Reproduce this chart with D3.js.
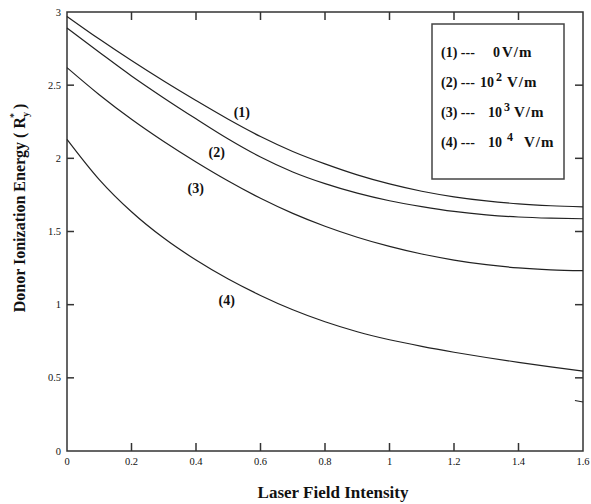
<html>

<head>
  <title>Donor Ionization Energy vs Laser Field Intensity</title>
  <script src="https://d3js.org/d3.v7.min.js"></script>
  <style>
    body {
      margin: 0;
      background: #fff;
    }

    .frame line,
    .frame rect {
      stroke: #333;
      stroke-width: 1.5px;
      fill: none;
    }

    .curve {
      fill: none;
      stroke: #222;
      stroke-width: 1.2px;
    }

    .tick-label {
      font-family: "Liberation Serif", "DejaVu Serif", serif;
      font-size: 10.5px;
      fill: #111;
    }

    .bold-text {
      font-family: "Liberation Serif", "DejaVu Serif", serif;
      font-weight: bold;
      fill: #111;
    }

    .legend-box {
      fill: #fff;
      stroke: #444;
      stroke-width: 1.5px;
    }
  </style>
</head>

<body>
  <svg id="chart" width="591" height="504"></svg>

  <script>
    // values
    const fieldIntensity = [0, 0.1, 0.2, 0.3, 0.4, 0.5, 0.6, 0.7, 0.8, 0.9, 1.0, 1.1, 1.2, 1.3, 1.4, 1.5, 1.6];
    const energy0 = [2.97, 2.815, 2.668, 2.528, 2.395, 2.267, 2.149, 2.047, 1.962, 1.887, 1.825, 1.775, 1.737, 1.709, 1.689, 1.676, 1.668];
    const energy1e2 = [2.89, 2.725, 2.563, 2.413, 2.27, 2.132, 2.009, 1.907, 1.827, 1.762, 1.71, 1.67, 1.637, 1.614, 1.599, 1.591, 1.587];
    const energy1e3 = [2.62, 2.435, 2.267, 2.115, 1.975, 1.845, 1.727, 1.624, 1.536, 1.461, 1.398, 1.346, 1.305, 1.273, 1.251, 1.238, 1.232];
    const energy1e4 = [2.13, 1.855, 1.635, 1.455, 1.305, 1.175, 1.063, 0.965, 0.883, 0.815, 0.76, 0.715, 0.675, 0.639, 0.606, 0.575, 0.546];
    const strayTail = [[1.575, 0.345], [1.6, 0.335]];

    const xTicks = [0, 0.2, 0.4, 0.6, 0.8, 1, 1.2, 1.4, 1.6];
    const yTicks = [0, 0.5, 1, 1.5, 2, 2.5, 3];

    const curveTags = ["(1)", "(2)", "(3)", "(4)"];
    const curveTagSpots = [[0.542, 2.317], [0.464, 2.04], [0.399, 1.80], [0.495, 1.03]];

    const legendTags = ["(1) ---", "(2) ---", "(3) ---", "(4) ---"];
    const legendBase = ["0", "10", "10", "10"];
    const legendPower = ["", "2", "3", "4"];
    const legendUnit = ["V/m", "V/m", "V/m", "V/m"];

    const svg = d3.select("svg#chart");
    const width = svg.attr("width");
    const height = svg.attr("height");
    const margin = { top: 12, right: 8, bottom: 53, left: 67 };
    const chartWidth = width - margin.left - margin.right;
    const chartHeight = height - margin.top - margin.bottom;

    const chartArea = svg.append("g").attr("transform", `translate(${margin.left},${margin.top})`);

    const xScale = d3.scaleLinear().domain([0, 1.6]).range([0, chartWidth]);
    const yScale = d3.scaleLinear().domain([0, 3]).range([chartHeight, 0]);

    // frame with inward ticks on all four sides
    const frame = chartArea.append("g").attr("class", "frame");
    frame.append("rect").attr("x", 0).attr("y", 0).attr("width", chartWidth).attr("height", chartHeight);

    const tickLen = 8;
    frame.selectAll("line.xb").data(xTicks.slice(1, -1)).join("line").attr("class", "xb")
      .attr("x1", d => xScale(d)).attr("x2", d => xScale(d))
      .attr("y1", chartHeight).attr("y2", chartHeight - tickLen);
    frame.selectAll("line.xt").data(xTicks.slice(1, -1)).join("line").attr("class", "xt")
      .attr("x1", d => xScale(d)).attr("x2", d => xScale(d))
      .attr("y1", 0).attr("y2", tickLen);
    frame.selectAll("line.yl").data(yTicks.slice(1, -1)).join("line").attr("class", "yl")
      .attr("x1", 0).attr("x2", tickLen - 1)
      .attr("y1", d => yScale(d)).attr("y2", d => yScale(d));
    frame.selectAll("line.yr").data(yTicks.slice(1, -1)).join("line").attr("class", "yr")
      .attr("x1", chartWidth).attr("x2", chartWidth - tickLen)
      .attr("y1", d => yScale(d)).attr("y2", d => yScale(d));

    // tick labels
    chartArea.selectAll("text.xl").data(xTicks).join("text")
      .attr("class", "tick-label xl")
      .attr("x", d => xScale(d))
      .attr("y", chartHeight + 14)
      .attr("text-anchor", "middle")
      .text(d => d);
    chartArea.selectAll("text.yl").data(yTicks).join("text")
      .attr("class", "tick-label yl")
      .attr("x", -6)
      .attr("y", d => yScale(d) + 3.5)
      .attr("text-anchor", "end")
      .text(d => d);

    // curves
    const line = d3.line()
      .x(d => xScale(d[0]))
      .y(d => yScale(d[1]))
      .curve(d3.curveMonotoneX);

    const series = [energy0, energy1e2, energy1e3, energy1e4];
    chartArea.selectAll("path.curve").data(series).join("path")
      .attr("class", "curve")
      .attr("d", vals => line(fieldIntensity.map((x, i) => [x, vals[i]])));
    chartArea.append("path").attr("class", "curve").attr("d", line(strayTail));

    chartArea.selectAll("text.tag").data(curveTags).join("text")
      .attr("class", "bold-text tag")
      .attr("font-size", 14)
      .attr("text-anchor", "middle")
      .attr("x", (d, i) => xScale(curveTagSpots[i][0]))
      .attr("y", (d, i) => yScale(curveTagSpots[i][1]) + 5)
      .text(d => d);

    // legend (offsets of base, power and unit inside each row)
    const legend = svg.append("g").attr("transform", "translate(432,24)");
    legend.append("rect").attr("class", "legend-box")
      .attr("width", 132).attr("height", 155);
    const baseX = [52, 39, 47, 47];
    const powerX = [0, 55, 63, 66];
    const unitX = [61, 66, 73, 83];
    legendTags.forEach((tag, i) => {
      let row = legend.append("g").attr("transform", `translate(9,${33 + i * 30})`);
      row.append("text").attr("class", "bold-text").attr("font-size", 14).text(tag);
      row.append("text").attr("class", "bold-text").attr("font-size", 14)
        .attr("x", baseX[i]).text(legendBase[i]);
      if (legendPower[i] != "") {
        row.append("text").attr("class", "bold-text").attr("font-size", 12)
          .attr("x", powerX[i]).attr("y", -6).text(legendPower[i]);
      }
      row.append("text").attr("class", "bold-text").attr("font-size", 15)
        .attr("x", unitX[i]).attr("letter-spacing", 1).text(legendUnit[i]);
    });

    // axis titles
    svg.append("text")
      .attr("class", "bold-text")
      .attr("font-size", 17)
      .attr("text-anchor", "middle")
      .attr("x", 333)
      .attr("y", 498)
      .text("Laser Field Intensity");

    const yTitle = svg.append("text")
      .attr("class", "bold-text")
      .attr("font-size", 16)
      .attr("text-anchor", "middle")
      .attr("transform", "translate(25,208) rotate(-90)")
      .attr("xml:space", "preserve");
    yTitle.append("tspan").text("Donor Ionization Energy ( R");
    yTitle.append("tspan").attr("font-size", 10).attr("dy", 4).text("y");
    yTitle.append("tspan").attr("font-size", 10).attr("dy", -12).attr("dx", -6).text("*");
    yTitle.append("tspan").attr("dy", 8).text(" )");
  </script>
</body>

</html>
